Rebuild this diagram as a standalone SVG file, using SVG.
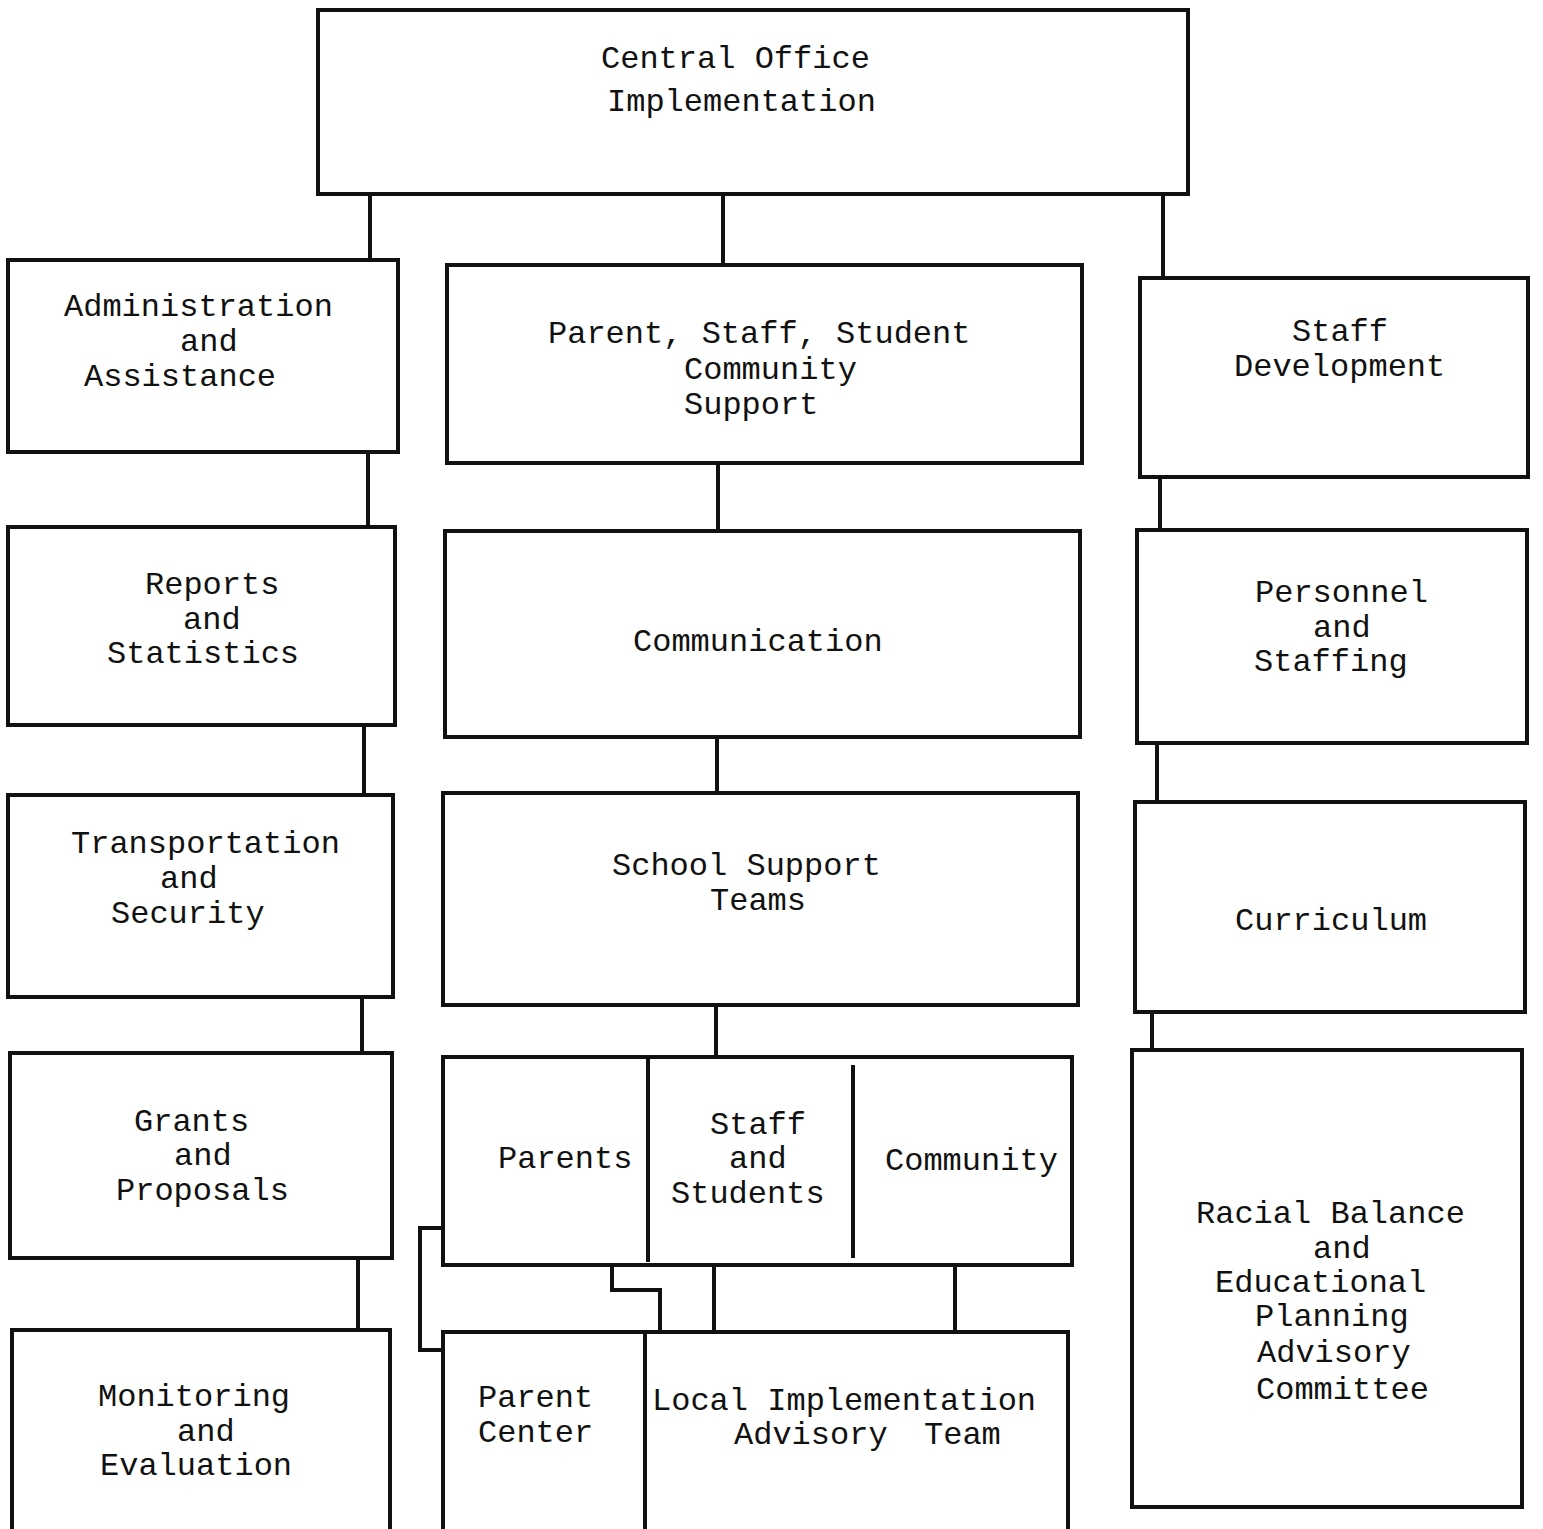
<svg xmlns="http://www.w3.org/2000/svg" width="1543" height="1529" viewBox="0 0 1543 1529">
<style>
.box{fill:none;stroke:#111;stroke-width:4;stroke-linejoin:miter}
.ln{fill:none;stroke:#111;stroke-width:4}
text{font-family:"Liberation Mono","DejaVu Sans Mono",monospace;font-size:32px;fill:#111}
</style>
<rect width="1543" height="1529" fill="#fff"/>
<g id="connectors">
<path class="ln" d="M370 194V260"/>
<path class="ln" d="M723 194V267"/>
<path class="ln" d="M1163 194V278"/>
<path class="ln" d="M368 452V527"/>
<path class="ln" d="M364 725V795"/>
<path class="ln" d="M362 997V1053"/>
<path class="ln" d="M358 1258V1330"/>
<path class="ln" d="M718 463V531"/>
<path class="ln" d="M717 737V793"/>
<path class="ln" d="M716 1005V1057"/>
<path class="ln" d="M1160 477V530"/>
<path class="ln" d="M1157 743V802"/>
<path class="ln" d="M1152 1012V1050"/>
<path class="ln" d="M714 1265V1332"/>
<path class="ln" d="M955 1265V1332"/>
<path class="ln" d="M612 1265V1290H660V1332"/>
<path class="ln" d="M443 1228H420V1350H443"/>
</g>
<g id="central"><rect class="box" x="318" y="10" width="870" height="184"/>
<text x="601" y="68">Central Office</text><text x="607" y="111">Implementation</text></g>
<g id="admin"><rect class="box" x="8" y="260" width="390" height="192"/>
<text x="64" y="316">Administration</text><text x="180" y="351">and</text><text x="84" y="386">Assistance</text></g>
<g id="reports"><rect class="box" x="8" y="527" width="387" height="198"/>
<text x="145" y="594">Reports</text><text x="183" y="629">and</text><text x="107" y="663">Statistics</text></g>
<g id="transport"><rect class="box" x="8" y="795" width="385" height="202"/>
<text x="71" y="853">Transportation</text><text x="160" y="888">and</text><text x="111" y="923">Security</text></g>
<g id="grants"><rect class="box" x="10" y="1053" width="382" height="205"/>
<text x="134" y="1131">Grants</text><text x="174" y="1165">and</text><text x="116" y="1200">Proposals</text></g>
<g id="monitoring"><path class="box" d="M12 1529V1330H390V1529"/>
<text x="98" y="1406">Monitoring</text><text x="177" y="1441">and</text><text x="100" y="1475">Evaluation</text></g>
<g id="support"><rect class="box" x="447" y="265" width="635" height="198"/>
<text x="548" y="343">Parent, Staff, Student</text><text x="684" y="379">Community</text><text x="684" y="414">Support</text></g>
<g id="communication"><rect class="box" x="445" y="531" width="635" height="206"/>
<text x="633" y="651">Communication</text></g>
<g id="schoolteams"><rect class="box" x="443" y="793" width="635" height="212"/>
<text x="612" y="875">School Support</text><text x="710" y="910">Teams</text></g>
<g id="groups"><rect class="box" x="443" y="1057" width="629" height="208"/>
<path class="ln" d="M648 1057V1262M853 1065V1258"/>
<text x="498" y="1168">Parents</text><text x="710" y="1134">Staff</text><text x="729" y="1168">and</text><text x="671" y="1203">Students</text><text x="885" y="1170">Community</text></g>
<g id="parentcenter"><path class="box" d="M443 1529V1332H645V1529"/>
<text x="478" y="1407">Parent</text><text x="478" y="1442">Center</text></g>
<g id="liat"><path class="box" d="M645 1332H1068V1529"/>
<text x="652" y="1410">Local Implementation</text><text x="734" y="1444">Advisory</text><text x="924" y="1444">Team</text></g>
<g id="staffdev"><rect class="box" x="1140" y="278" width="388" height="199"/>
<text x="1292" y="341">Staff</text><text x="1234" y="376">Development</text></g>
<g id="personnel"><rect class="box" x="1137" y="530" width="390" height="213"/>
<text x="1255" y="602">Personnel</text><text x="1313" y="637">and</text><text x="1254" y="671">Staffing</text></g>
<g id="curriculum"><rect class="box" x="1135" y="802" width="390" height="210"/>
<text x="1235" y="930">Curriculum</text></g>
<g id="racial"><rect class="box" x="1132" y="1050" width="390" height="457"/>
<text x="1196" y="1223">Racial Balance</text><text x="1313" y="1258">and</text><text x="1215" y="1292">Educational</text><text x="1255" y="1326">Planning</text><text x="1257" y="1362">Advisory</text><text x="1256" y="1399">Committee</text></g>
</svg>
